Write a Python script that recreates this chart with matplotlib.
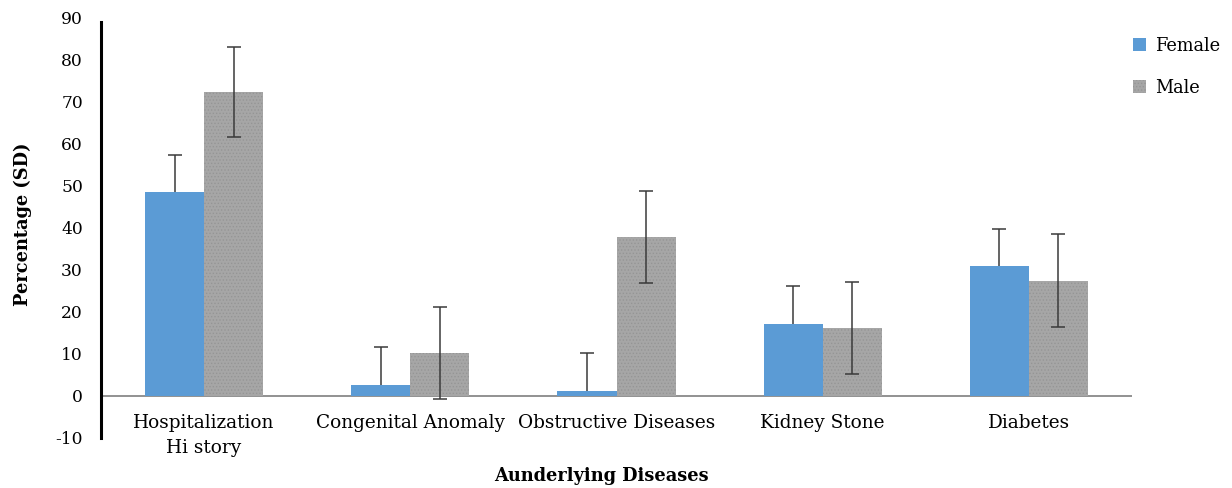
import matplotlib
matplotlib.use("Agg")
import matplotlib.pyplot as plt
import numpy as np

categories = ["Hospitalization\nHi story", "Congenital Anomaly", "Obstructive Diseases",
              "Kidney Stone", "Diabetes"]
female = [48.6, 2.6, 1.2, 17.1, 31.0]
female_sd = [8.8, 9.0, 9.0, 9.1, 8.8]
male = [72.4, 10.2, 37.9, 16.2, 27.5]
male_sd = [10.8, 11.0, 11.0, 11.0, 11.0]
yticks = list(range(-10, 100, 10))

plt.rcParams["font.family"] = ["DejaVu Serif"]
plt.rcParams["hatch.color"] = "#959595"
plt.rcParams["hatch.linewidth"] = 0.6

fig = plt.figure(figsize=(12.32, 4.88), dpi=100)
ax = fig.add_axes([101 / 1232, 1 - 438 / 488, (1132 - 101) / 1232, (438 - 18) / 488])

x = np.arange(len(categories))
w = 0.287
err_kw = dict(ecolor="#3a3a3a", elinewidth=1.1, capsize=4.8, capthick=1.1)

fbars = ax.bar(x - w / 2, female, w, color="#5B9BD5", label="Female",
               yerr=[np.zeros(len(female)), female_sd], error_kw=err_kw, zorder=2)
# female SD is drawn upward only, hide the lower caps
fbars.errorbar.lines[1][0].set_visible(False)
ax.bar(x + w / 2, male, w, color="#A6A6A6", hatch=".....", linewidth=0,
       label="Male", yerr=male_sd, error_kw=err_kw, zorder=2)

ax.axhline(0, color="#7f7f7f", linewidth=1.2, zorder=1)

ax.set_xlim(-0.5, len(categories) - 0.5)
ax.set_ylim(-10, 90)
ax.set_yticks(yticks)
ax.set_yticklabels([str(t) for t in yticks], fontsize=12.3)
ax.set_xticks(x)
ax.set_xticklabels(categories, fontsize=13.3, linespacing=1.45)
ax.tick_params(axis="x", length=0, pad=-17)
ax.tick_params(axis="y", length=0, pad=13)

for s in ["top", "right", "bottom"]:
    ax.spines[s].set_visible(False)
ax.spines["left"].set_linewidth(2.2)
ax.spines["left"].set_color("black")
ax.spines["left"].set_bounds(-10, 89)

ax.set_xlabel("Aunderlying Diseases", fontsize=12.8, fontweight="bold")
ax.xaxis.set_label_coords(0.485, -0.068)
ax.set_ylabel("Percentage (SD)", fontsize=12.8, fontweight="bold")
ax.yaxis.set_label_coords(-0.067, 0.51)

fig.legend(loc="upper left", bbox_to_anchor=(1126 / 1232, 1 - 30 / 488), frameon=False,
           fontsize=12.8, handlelength=0.75, handleheight=0.75, handletextpad=0.5,
           labelspacing=1.35, borderaxespad=0)

fig.savefig("out.png", dpi=100)
